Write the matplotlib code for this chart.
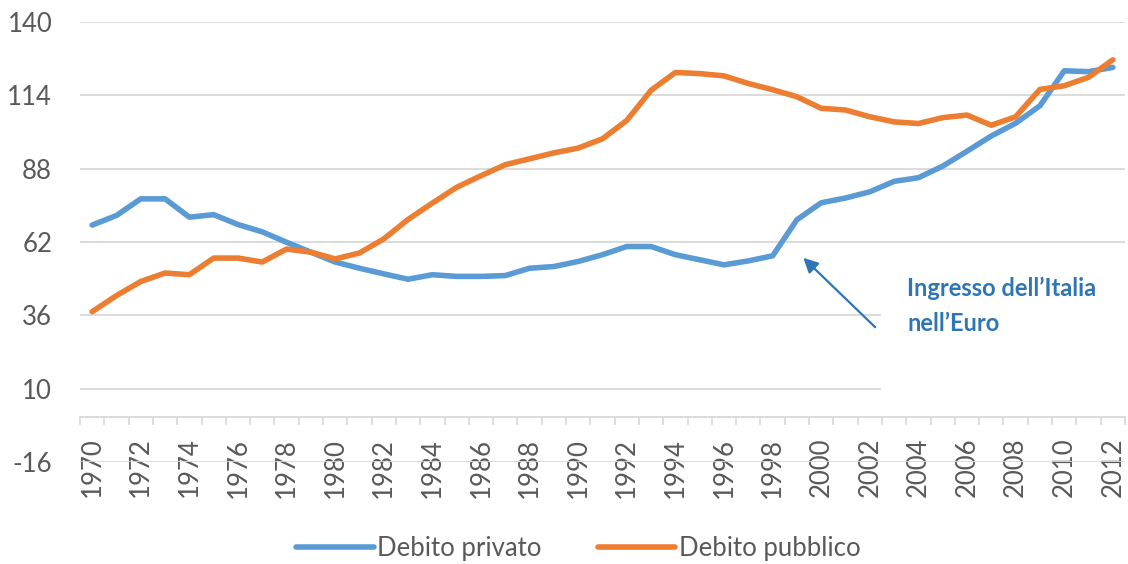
import numpy as np
import matplotlib
matplotlib.use("Agg")
import matplotlib.pyplot as plt
from matplotlib.patches import Rectangle

plt.rcParams['font.family'] = ['Lato', 'DejaVu Sans']
plt.rcParams['axes.unicode_minus'] = False

# Data (% of GDP)
years = list(range(1970, 2013))
debito_privato = [68.0, 71.4, 77.3, 77.3, 70.8, 71.7, 68.2, 65.6, 61.9, 58.4,
                  54.9, 52.7, 50.7, 48.8, 50.4, 49.8, 49.8, 50.1, 52.7, 53.3,
                  55.1, 57.5, 60.4, 60.4, 57.5, 55.7, 53.9, 55.3, 57.1, 69.9,
                  75.9, 77.6, 79.8, 83.5, 84.8, 88.9, 94.2, 99.6, 104.1, 110.3,
                  122.7, 122.4, 123.9]
debito_pubblico = [37.3, 43.0, 48.0, 51.0, 50.4, 56.3, 56.3, 54.9, 59.5, 58.4,
                   56.0, 58.1, 63.1, 70.0, 75.8, 81.4, 85.5, 89.4, 91.5, 93.6,
                   95.3, 98.6, 105.1, 115.8, 122.1, 121.7, 120.9, 118.2, 116.0, 113.5,
                   109.4, 108.8, 106.4, 104.6, 104.0, 106.1, 107.0, 103.4, 106.4, 116.1,
                   117.4, 120.4, 126.6]
y_ticks = [-16, 10, 36, 62, 88, 114, 140]

blue = '#5B9BD5'
orange = '#ED7D31'
grey = '#595959'
grid_c = '#D9D9D9'

fig = plt.figure(figsize=(11.28, 5.64), dpi=100)
ax = fig.add_axes([80 / 1128, 1 - 462 / 564, 1045 / 1128, 440 / 564])

x = np.arange(len(years))
ax.plot(x, debito_privato, color=blue, lw=4, label='Debito privato',
        solid_capstyle='round', zorder=3)
ax.plot(x, debito_pubblico, color=orange, lw=4, label='Debito pubblico',
        solid_capstyle='round', zorder=3)

ax.set_xlim(-0.5, len(years) - 0.5)
ax.set_ylim(-16, 140)

# y axis
ax.set_yticks(y_ticks)
ax.yaxis.grid(True, color=grid_c, lw=1.3)
ax.set_axisbelow(True)
ax.tick_params(axis='y', length=0, pad=20, labelsize=18.5, labelcolor=grey)

# x axis at zero, labels every two years, ticks between categories
for s in ['top', 'right', 'left']:
    ax.spines[s].set_visible(False)
ax.spines['bottom'].set_position(('data', 0))
ax.spines['bottom'].set_color(grid_c)
ax.spines['bottom'].set_linewidth(1.3)
ax.set_xticks(x[::2])
ax.set_xticklabels([str(y) for y in years[::2]], rotation=90)
ax.set_xticks(np.arange(-0.5, len(years), 1), minor=True)
ax.tick_params(axis='x', which='major', length=0, pad=15, labelsize=18.5,
               labelcolor=grey)
ax.tick_params(axis='x', which='minor', length=6, width=1.3, color=grid_c,
               direction='out')
for lab in ax.get_xticklabels():
    lab.set_va('top')

# white box behind the annotation text
ax.add_patch(Rectangle((32.45, 3), 12, 48, facecolor='white', edgecolor='none',
                       zorder=1, clip_on=False))

ax.annotate('', xy=(29.26, 56.4), xytext=(32.22, 31.8),
            arrowprops=dict(arrowstyle='-|>', color='#2E75B6', lw=1.6,
                            mutation_scale=22, shrinkA=0, shrinkB=0),
            zorder=4)
ax.text(33.55, 49.6, 'Ingresso dell\u2019Italia\nnell\u2019Euro', color='#2E75B6',
        fontsize=17, fontweight='bold', va='top', ha='left', linespacing=1.6,
        zorder=4)

fig.legend(loc='lower center', bbox_to_anchor=(0.513, -0.035), ncol=2,
           frameon=False, fontsize=18.5, labelcolor=grey, handlelength=3.0,
           handletextpad=0.15, columnspacing=2.2)

fig.savefig('out.png', dpi=100)
